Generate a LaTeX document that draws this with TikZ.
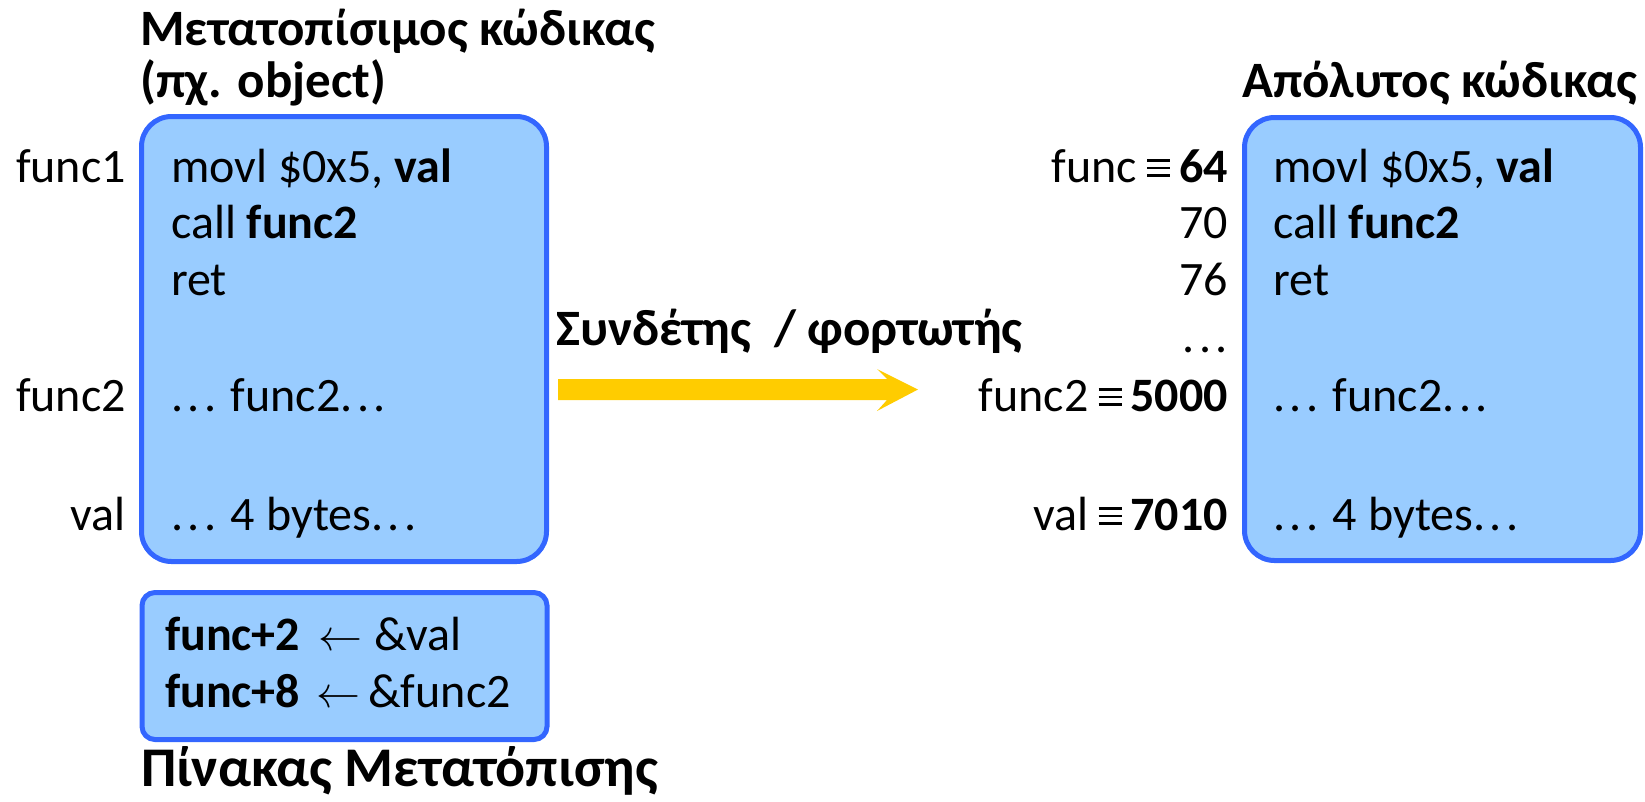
\documentclass[tikz,border=0pt]{standalone}
\usepackage{graphicx}
\usepackage{fontspec}
\setmainfont{Carlito}
\definecolor{fillblue}{HTML}{99CCFF}
\definecolor{edgeblue}{HTML}{3366FF}
\definecolor{arrowyellow}{HTML}{FFCC00}
\newcommand\bodyfont{\fontsize{48}{58}\selectfont}
\newcommand\headfont{\fontsize{51}{60}\selectfont\bfseries}
\newcommand\bigheadfont{\fontsize{56}{64}\selectfont\bfseries}
% "identical to" sign built from three rules
\newcommand\eqsym{\hspace{10pt}\rlap{\rule[5pt]{23pt}{2.6pt}}\rlap{\rule[12.7pt]{23pt}{2.6pt}}\rule[20.4pt]{23pt}{2.6pt}\hspace{9pt}}
% left arrow taken from the 10pt math fonts and scaled up
\newcommand\larr{\scalebox{4.4}{\fontsize{10}{12}\selectfont$\leftarrow$}}
% widely spaced ellipsis
\newcommand\elli{.\kern4.5pt.\kern4.5pt.}
\tikzset{
  codebox/.style={draw=edgeblue, fill=fillblue, line width=5pt,
    rounded corners=30pt, inner sep=0pt},
  relocbox/.style={codebox, rounded corners=13pt},
  line/.style={inner sep=0pt, font=\bodyfont, anchor=base west},
  addr/.style={inner sep=0pt, font=\bodyfont, anchor=base east},
  head/.style={inner sep=0pt, font=\headfont, anchor=base west},
}
\begin{document}
\begin{tikzpicture}[x=1pt,y=-1pt]
\useasboundingbox (0,0) rectangle (1645,801);

% headings
\node[head] (h1) at (140,45) {Μετατοπίσιμος κώδικας};
\node[head] (h2) at (140,97) {(πχ. object)};
\node[head] (h3) at (1242,97) {Απόλυτος κώδικας};
\node[head] (h4) at (556,345) {Συνδέτης~~/ φορτωτής};
\node[head, font=\bigheadfont] (h5) at (141,786) {Πίνακας Μετατόπισης};

% relocatable code
\node[codebox, minimum width=405pt, minimum height=445pt] (obj) at (344,339) {};
\node[line] (o1) at (171,182) {movl \$0x5, \textbf{val}};
\node[line] (o2) at (171,238) {call \textbf{func2}};
\node[line] (o3) at (171,295) {ret};
\node[line] (o4) at (171,411) {\elli{} func2\elli};
\node[line] (o5) at (171,530) {\elli{} 4 bytes\elli};
\node[addr] (a1) at (126,182) {func1};
\node[addr] (a2) at (126,411) {func2};
\node[addr] (a3) at (126,530) {val};

% relocation table
\node[relocbox, minimum width=405pt, minimum height=147pt] (rel) at (344.5,666) {};
\node[line] (r1) at (165,650) {\textbf{func+2}\hspace{18pt}\larr\hspace{12pt}\&val};
\node[line] (r2) at (165,707) {\textbf{func+8}\hspace{16pt}\larr\hspace{8pt}\&func2};

% absolute code
\node[codebox, minimum width=396pt, minimum height=443pt] (abs) at (1442.5,339) {};
\node[line] (b1) at (1273,182) {movl \$0x5, \textbf{val}};
\node[line] (b2) at (1273,238) {call \textbf{func2}};
\node[line] (b3) at (1273,295) {ret};
\node[line] (b4) at (1273,411) {\elli{} func2\elli};
\node[line] (b5) at (1273,530) {\elli{} 4 bytes\elli};
\node[addr] (c1) at (1228,182) {func\eqsym\textbf{64}};
\node[addr] (c2) at (1228,238) {70};
\node[addr] (c3) at (1228,295) {76};
\node[addr] (c4) at (1228,352) {\elli};
\node[addr] (c5) at (1228,411) {func2\eqsym\textbf{5000}};
\node[addr] (c6) at (1228,530) {val\eqsym\textbf{7010}};

% linker / loader arrow
\fill[arrowyellow] (558,379) -- (887,379) -- (877,369) -- (918,389.5)
  -- (877,411) -- (887,400) -- (558,400) -- cycle;
\end{tikzpicture}
\end{document}
